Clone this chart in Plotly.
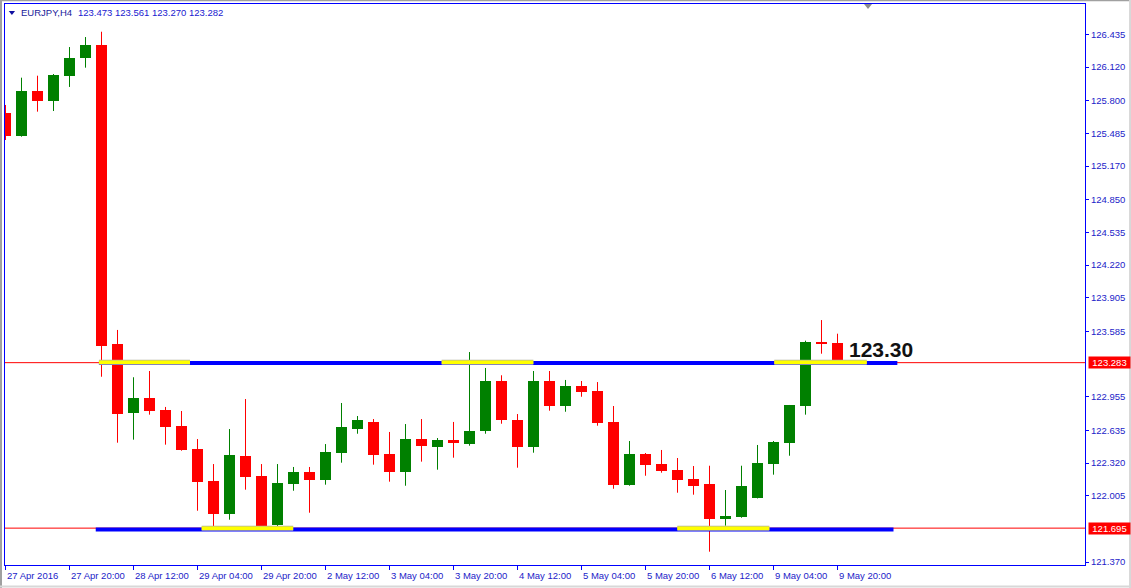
import plotly.graph_objects as go

# ---------------- data ----------------
symbol = "EURJPY,H4"

opens = [125.682, 125.461, 125.890, 125.794, 126.034, 126.210, 126.332, 123.462, 122.803, 122.944,
         122.829, 122.675, 122.454, 122.147, 121.834, 122.387, 122.195, 121.725, 122.119, 122.234,
         122.160, 122.419, 122.646, 122.714, 122.406, 122.237, 122.550, 122.477, 122.541, 122.505,
         122.630, 123.107, 122.733, 122.477, 123.107, 122.870, 123.059, 123.011, 122.714, 122.112,
         122.406, 122.310, 122.253, 122.167, 122.119, 121.786, 121.805, 121.987, 122.313, 122.515,
         122.870, 123.478, 123.473]
highs = [125.756, 126.018, 126.037, 126.053, 126.312, 126.408, 126.459, 123.597, 123.143, 123.203,
         122.858, 122.819, 122.550, 122.310, 122.646, 122.934, 122.310, 122.310, 122.282, 122.282,
         122.502, 122.896, 122.771, 122.742, 122.618, 122.694, 122.742, 122.560, 122.714, 123.385,
         123.232, 123.162, 122.790, 123.203, 123.203, 123.117, 123.107, 123.097, 122.867, 122.531,
         122.416, 122.445, 122.368, 122.291, 122.294, 122.061, 122.294, 122.493, 122.531, 122.877,
         123.494, 123.692, 123.561]
lows = [125.420, 125.452, 125.692, 125.698, 125.929, 126.114, 123.148, 122.515, 122.544, 122.784,
        122.496, 122.438, 121.862, 121.715, 121.776, 122.064, 121.693, 121.706, 122.054, 121.843,
        122.112, 122.323, 122.601, 122.304, 122.141, 122.102, 122.333, 122.256, 122.371, 122.486,
        122.601, 122.697, 122.275, 122.419, 122.822, 122.812, 122.956, 122.678, 122.073, 122.102,
        122.198, 122.227, 122.035, 122.016, 121.469, 121.718, 121.795, 121.980, 122.208, 122.390,
        122.784, 123.369, 123.270]
closes = [125.461, 125.890, 125.794, 126.044, 126.210, 126.332, 123.446, 122.793, 122.944, 122.822,
          122.668, 122.448, 122.141, 121.834, 122.397, 122.186, 121.715, 122.128, 122.234, 122.160,
          122.426, 122.666, 122.733, 122.400, 122.237, 122.550, 122.486, 122.541, 122.515, 122.627,
          123.107, 122.736, 122.477, 123.107, 122.870, 123.059, 123.004, 122.707, 122.112, 122.406,
          122.304, 122.246, 122.160, 122.102, 121.786, 121.811, 122.099, 122.320, 122.522, 122.877,
          123.484, 123.465, 123.282]

time_labels = ["27 Apr 2016", "27 Apr 20:00", "28 Apr 12:00", "29 Apr 04:00", "29 Apr 20:00",
               "2 May 12:00", "3 May 04:00", "3 May 20:00", "4 May 12:00", "5 May 04:00",
               "5 May 20:00", "6 May 12:00", "9 May 04:00", "9 May 20:00"]
label_step = 4  # one time label every 4 bars

price_ticks = [126.435, 126.120, 125.800, 125.485, 125.170, 124.850, 124.535, 124.220,
               123.905, 123.585, 122.955, 122.635, 122.320, 122.005, 121.370]

resistance = 123.283
support = 121.695
zone_label = "123.30"

# extents of the drawn levels (in bar units)
res_blue = [5.84, 55.74]
res_yellow_start = [5.84, 27.26, 48.05]
res_yellow_end = [11.53, 32.99, 53.83]
sup_blue = [5.64, 55.50]
sup_yellow_start = [12.26, 41.99]
sup_yellow_end = [17.98, 47.74]

# ---------------- styles ----------------
GREEN = "#008000"
RED = "#ff0000"
BLUE = "#0000ff"
TXT_BLUE = "#1c1cc8"
FONT = "Liberation Sans, Arial, sans-serif"

n = len(opens)
idx = list(range(n))
up = [c >= o for o, c in zip(opens, closes)]

fig = go.Figure()

# wicks
for flag, col in ((True, GREEN), (False, RED)):
    wx, wy = [], []
    for i in idx:
        if up[i] == flag:
            wx += [i, i, None]
            wy += [lows[i], highs[i], None]
    fig.add_trace(go.Scatter(x=wx, y=wy, mode="lines", line=dict(color=col, width=1),
                             hoverinfo="skip"))

# bodies
fig.add_trace(go.Bar(
    x=idx,
    base=[min(o, c) for o, c in zip(opens, closes)],
    y=[max(abs(c - o), 0.012) for o, c in zip(opens, closes)],
    width=0.6875,
    marker=dict(color=[GREEN if u else RED for u in up], line=dict(width=0)),
    hoverinfo="skip",
))

# support / resistance thick segments
def seg_trace(x0, x1, y, color, width):
    return go.Scatter(x=[x0, x1], y=[y, y], mode="lines",
                      line=dict(color=color, width=width), hoverinfo="skip")

fig.add_trace(seg_trace(res_blue[0], res_blue[1], resistance - 0.003, BLUE, 4))
fig.add_trace(seg_trace(sup_blue[0], sup_blue[1], support - 0.012, BLUE, 4))
for s, e in zip(res_yellow_start, res_yellow_end):
    fig.add_trace(seg_trace(s, e, resistance + 0.004, "#b0b0a0", 5))
    fig.add_trace(seg_trace(s, e, resistance + 0.004, "#ffff00", 3.5))
for s, e in zip(sup_yellow_start, sup_yellow_end):
    fig.add_trace(seg_trace(s, e, support - 0.001, "#b0b0a0", 5))
    fig.add_trace(seg_trace(s, e, support - 0.001, "#ffff00", 3.5))

shapes = []
for lvl in (resistance, support):
    shapes.append(dict(type="line", xref="paper", yref="y", x0=0, x1=1, y0=lvl, y1=lvl,
                       line=dict(color=RED, width=1), layer="below"))

# window frame
shapes.append(dict(type="line", xref="paper", yref="paper", x0=-0.005, x1=1.05,
                   y0=1.0065, y1=1.0065, line=dict(color="#a0a0a0", width=2)))
shapes.append(dict(type="line", xref="paper", yref="paper", x0=-0.0037, x1=-0.0037,
                   y0=-0.05, y1=1.01, line=dict(color="#a0a0a0", width=2)))
shapes.append(dict(type="line", xref="paper", yref="paper", x0=-0.005, x1=1.05,
                   y0=-0.0385, y1=-0.0385, line=dict(color="#d8d8d8", width=2)))
shapes.append(dict(type="line", xref="paper", yref="paper", x0=1.0417, x1=1.0417,
                   y0=-0.05, y1=1.01, line=dict(color="#d8d8d8", width=2)))
# small markers
shapes.append(dict(type="path", xref="paper", yref="paper",
                   path="M 0.7954,1.0 L 0.8028,1.0 L 0.7991,0.9911 Z",
                   fillcolor="#8c8c8c", line=dict(width=0)))
shapes.append(dict(type="path", xref="paper", yref="paper",
                   path="M 0.0035,0.9875 L 0.0093,0.9875 L 0.0064,0.9804 Z",
                   fillcolor="#1010a0", line=dict(width=0)))

annotations = []
# header
annotations.append(dict(xref="paper", yref="paper", x=0.0125, y=0.9840, xanchor="left",
                        yanchor="middle", text=symbol, showarrow=False,
                        font=dict(family=FONT, size=9.5, color="#1a1a9a")))
annotations.append(dict(xref="paper", yref="paper", x=0.0655, y=0.9840, xanchor="left",
                        yanchor="middle",
                        text=f"{opens[-1]:.3f} {highs[-1]:.3f} {lows[-1]:.3f} {closes[-1]:.3f}",
                        showarrow=False, font=dict(family=FONT, size=9.5, color="#2020d0")))
# time labels, left aligned at their tick
tick_pos = [i * label_step for i in range(len(time_labels))]
for p, t in zip(tick_pos, time_labels):
    annotations.append(dict(xref="x", yref="paper", x=p - 0.03, y=-0.0196, xanchor="left",
                            yanchor="middle", text=t, showarrow=False,
                            font=dict(family=FONT, size=9.5, color=TXT_BLUE)))
# price labels of the levels on the axis
for lvl in (resistance, support):
    annotations.append(dict(xref="paper", yref="y", x=1.0027, y=lvl, xanchor="left",
                            yanchor="middle", text=f"{lvl:.3f}", showarrow=False,
                            bgcolor=RED, borderpad=1, width=39, height=9,
                            font=dict(family=FONT, size=9.5, color="#ffffff")))
# zone label
annotations.append(dict(xref="x", yref="y", x=52.62, y=123.409, xanchor="left",
                        yanchor="middle", text=f"<b>{zone_label}</b>", showarrow=False,
                        font=dict(family=FONT, size=21, color="#111111")))

fig.update_layout(
    width=1131, height=588,
    margin=dict(l=5, r=46, t=4, b=23, pad=0),
    plot_bgcolor="#ffffff", paper_bgcolor="#ffffff",
    showlegend=False, barmode="overlay", bargap=0,
    hovermode=False,
    shapes=shapes, annotations=annotations,
    xaxis=dict(range=[-0.031, 67.469], showgrid=False, zeroline=False,
               showline=True, linecolor=BLUE, linewidth=1, mirror=True,
               ticks="outside", ticklen=4, tickcolor=BLUE, tickwidth=1,
               tickvals=tick_pos, ticktext=[""] * len(tick_pos),
               showticklabels=False, fixedrange=True),
    yaxis=dict(range=[121.3412, 126.7251], side="right", showgrid=False, zeroline=False,
               showline=True, linecolor=BLUE, linewidth=1, mirror=True,
               ticks="outside", ticklen=3, tickcolor=BLUE, tickwidth=1,
               tickvals=price_ticks, ticktext=[f"{v:.3f}" for v in price_ticks],
               tickfont=dict(family=FONT, size=9.5, color=TXT_BLUE), fixedrange=True),
)

fig.write_html("out.html", config={"displayModeBar": False},
               post_script="document.body.style.margin='0';document.body.style.overflow='hidden';")
